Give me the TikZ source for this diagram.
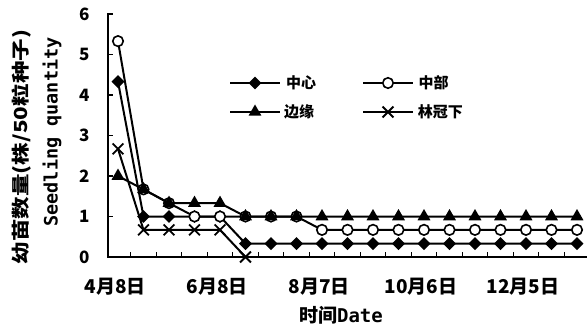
\documentclass[tikz,border=0pt]{standalone}
\usepackage{fontspec}
\setmonofont{DejaVu Sans Mono}
\newfontfamily\cjk{Noto Sans CJK SC}
\usetikzlibrary{shapes.geometric,shapes.misc,positioning}

\begin{document}
\begin{tikzpicture}[x = 1pt, y = -1pt,
  axis/.style = {line width = 1.8pt, line cap = rect},
  series/.style = {line width = 2pt, line join = round},
  mkdia/.style = {diamond, fill = black, inner sep = 0pt, minimum size = 13pt},
  mkcirc/.style = {circle, draw = black, line width = 1.6pt, fill = white, inner sep = 0pt, minimum size = 10.5pt},
  mktri/.style = {regular polygon, regular polygon sides = 3, fill = black, inner sep = 0pt, minimum size = 15pt},
  mkx/.style = {cross out, draw = black, line width = 1.8pt, inner sep = 0pt, minimum size = 9pt},
  ticklabel/.style = {font = \cjk\bfseries\fontsize{17}{17}\selectfont},
  datelabel/.style = {font = \cjk\bfseries\fontsize{19}{19}\selectfont},
  legtext/.style = {font = \cjk\bfseries\fontsize{15}{15}\selectfont}]
\useasboundingbox (0,0) rectangle (587,329);

\coordinate (yt) at (108,14);
\coordinate (o) at (108,257);
\coordinate (xe) at (586,257);
\draw[axis] (yt) -- (o) -- (xe);
\foreach \k in {0,...,6} {
  \coordinate (yk\k) at (108,{257-40.5*\k});
  \draw[line width = 1.4pt] (yk\k) -- ++(5,0);
  \node[ticklabel, anchor = east] (yl\k) at (93,{257-40.5*\k}) {\k};
}
\foreach \k in {0,...,17}
  \draw[line width = 1.4pt] ({130.75+25.5*\k},257) -- ++(0,-5);
\foreach \d [count = \j from 0] in {4月8日,6月8日,8月7日,10月6日,12月5日}
  \node[datelabel] (xl\j) at ({115+102*\j},287) {\d};

\node[rotate = 90, font = \cjk\bfseries\fontsize{18}{18}\selectfont] (ytitle) at (22,147) {\scalebox{1.25}[1]{幼苗数量(株/50粒种子)}};
\node[rotate = 90, font = \ttfamily\bfseries\fontsize{18.5}{18.5}\selectfont] (ytitleen) at (52,132) {Seedling quantity};
\node[font = \bfseries\fontsize{19}{19}\selectfont] (xtitle) at (341,315) {{\cjk 时间}{\ttfamily Date}};

\foreach \v [count = \i from 0] in {4.33,1,1,1,1,0.33,0.33,0.33,0.33,0.33,0.33,0.33,0.33,0.33,0.33,0.33,0.33,0.33,0.33}
  \coordinate (zx\i) at ({118+25.5*\i},{257-40.5*\v});
\draw[series] (zx0) \foreach \i in {1,...,18} {-- (zx\i)};
\foreach \i in {0,...,18}
  \node[mkdia] (zxm\i) at (zx\i) {};

\foreach \v [count = \i from 0] in {5.33,1.67,1.33,1,1,1,1,1,0.67,0.67,0.67,0.67,0.67,0.67,0.67,0.67,0.67,0.67,0.67}
  \coordinate (zb\i) at ({118+25.5*\i},{257-40.5*\v});
\draw[series] (zb0) \foreach \i in {1,...,18} {-- (zb\i)};
\foreach \i in {0,...,18}
  \node[mkcirc] (zbm\i) at (zb\i) {};

\foreach \v [count = \i from 0] in {2,1.67,1.33,1.33,1.33,1,1,1,1,1,1,1,1,1,1,1,1,1,1}
  \coordinate (by\i) at ({118+25.5*\i},{257-40.5*\v});
\draw[series] (by0) \foreach \i in {1,...,18} {-- (by\i)};
\foreach \i in {0,...,18}
  \node[mktri] (bym\i) at (by\i) {};

\foreach \v [count = \i from 0] in {2.67,0.67,0.67,0.67,0.67,0}
  \coordinate (lg\i) at ({118+25.5*\i},{257-40.5*\v});
\draw[series] (lg0) \foreach \i in {1,...,5} {-- (lg\i)};
\foreach \i in {0,...,5}
  \node[mkx] (lgm\i) at (lg\i) {};

\coordinate (la1) at (230,83);
\coordinate (lb1) at (280,83);
\draw[series] (la1) -- (lb1);
\node[mkdia] (lm1) at (255,83) {};
\node[legtext, right = 21pt of lm1] (lt1) {中心};
\coordinate (la2) at (363,83);
\coordinate (lb2) at (413,83);
\draw[series] (la2) -- (lb2);
\node[mkcirc] (lm2) at (388,83) {};
\node[legtext, right = 21pt of lm2] (lt2) {中部};
\coordinate (la3) at (230,112);
\coordinate (lb3) at (280,112);
\draw[series] (la3) -- (lb3);
\node[mktri] (lm3) at (255,112) {};
\node[legtext, right = 21pt of lm3] (lt3) {边缘};
\coordinate (la4) at (363,112);
\coordinate (lb4) at (413,112);
\draw[series] (la4) -- (lb4);
\node[mkx] (lm4) at (388,112) {};
\node[legtext, right = 21pt of lm4] (lt4) {林冠下};
\end{tikzpicture}
\end{document}
